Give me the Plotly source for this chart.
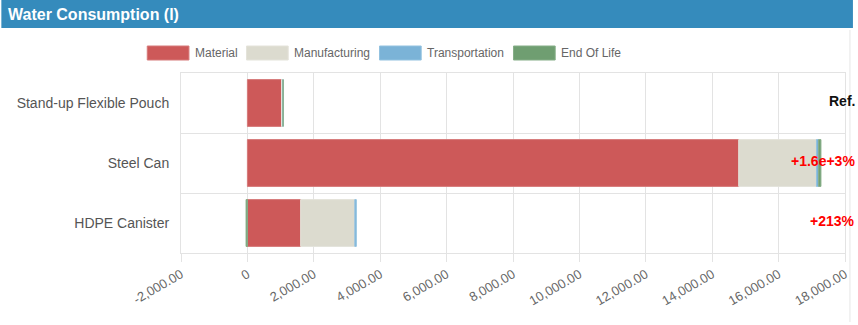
import plotly.graph_objects as go

categories = ["Stand-up Flexible Pouch", "Steel Can", "HDPE Canister"]
series_names = ["Material", "Manufacturing", "Transportation", "End Of Life"]
material = [1027, 14800, 1605]
manufacturing = [40, 2340, 1630]
transportation = [5, 65, 45]
end_of_life = [5, 70, -40]
change_labels = ["Ref.", "+1.6e+3%", "+213%"]
tick_values = [-2000, 0, 2000, 4000, 6000, 8000, 10000, 12000, 14000, 16000, 18000]
tick_labels = ["-2,000.00", "0", "2,000.00", "4,000.00", "6,000.00", "8,000.00",
               "10,000.00", "12,000.00", "14,000.00", "16,000.00", "18,000.00"]

colors = ["#cd5959", "#dcdbcf", "#7bb3d7", "#6f9e71"]
borders = ["#d67a7a", "#e4e3da", "#93c2e0", "#86ae88"]
values = [material, manufacturing, transportation, end_of_life]

W, H = 858, 325
L, R, T, B = 181, 850, 73, 253
FONT = "Liberation Sans, Arial, sans-serif"

def px(x):
    return (x - L) / (R - L)

def py(y):
    return (B - y) / (B - T)

fig = go.Figure()
for name, vals, c, bc in zip(series_names, values, colors, borders):
    fig.add_trace(go.Bar(
        y=categories, x=vals, name=name, orientation="h",
        marker=dict(color=c, line=dict(color=bc, width=1)),
        showlegend=False, hoverinfo="x+name",
    ))

shapes = []
annotations = []
# header bar
shapes.append(dict(type="rect", xref="paper", yref="paper",
                   x0=px(0), x1=px(W), y0=py(28), y1=py(0),
                   fillcolor="#358bbc", line=dict(width=0), layer="below"))
annotations.append(dict(xref="paper", yref="paper", x=px(5), y=py(14),
                        xanchor="left", yanchor="middle", showarrow=False,
                        text="<b>Water Consumption (l)</b>",
                        font=dict(family=FONT, size=16, color="white")))
# right card border
shapes.append(dict(type="line", xref="paper", yref="paper",
                   x0=px(855), x1=px(855), y0=py(322), y1=py(30),
                   line=dict(color="#e6e6e6", width=1)))
# custom legend
legend_x = [147, 247, 381, 516]
for name, c, bc, lx in zip(series_names, colors, borders, legend_x):
    shapes.append(dict(type="rect", xref="paper", yref="paper",
                       x0=px(lx), x1=px(lx + 42), y0=py(60), y1=py(46),
                       fillcolor=c, line=dict(color=bc, width=1)))
    annotations.append(dict(xref="paper", yref="paper", x=px(lx + 46), y=py(53),
                            xanchor="left", yanchor="middle", showarrow=False,
                            text=name, font=dict(family=FONT, size=12, color="#666666")))
# change labels
for cat, lab in zip(categories, change_labels):
    annotations.append(dict(xref="paper", yref="y", x=1, y=cat, yshift=2, xshift=12,
                            xanchor="right", yanchor="middle", showarrow=False,
                            text="<b>" + lab + "</b>",
                            font=dict(family=FONT, size=14,
                                      color="#111111" if lab == "Ref." else "#ff0000")))

fig.update_layout(
    width=W, height=H,
    margin=dict(l=L, r=W - R, t=T, b=H - B),
    barmode="relative", bargap=0.22,
    plot_bgcolor="white", paper_bgcolor="white",
    font=dict(family=FONT, size=13, color="#666666"),
    shapes=shapes, annotations=annotations,
    xaxis=dict(range=[-2000, 18000], tickvals=tick_values, ticktext=tick_labels,
               tickangle=-30, showgrid=True, gridcolor="#e3e3e3", gridwidth=1,
               zeroline=False, ticks="outside", ticklen=8, tickcolor="#e3e3e3",
               showline=True, linecolor="#e3e3e3", mirror=True,
               tickfont=dict(family=FONT, size=13, color="#666666"), fixedrange=True),
    yaxis=dict(autorange="reversed", type="category", tickson="boundaries",
               showgrid=True, gridcolor="#e3e3e3", ticks="", ticklen=0,
               showline=True, linecolor="#e3e3e3", mirror=True,
               tickfont=dict(family=FONT, size=14, color="#555555"), fixedrange=True,
               ticklabelstandoff=8),
)

fig.write_html("out.html")
